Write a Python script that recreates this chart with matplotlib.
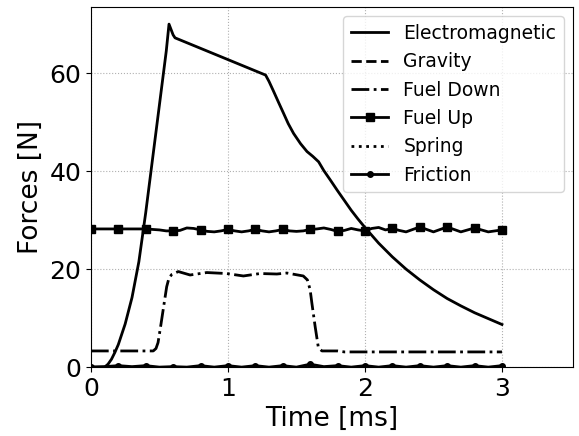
import matplotlib
matplotlib.use("Agg")
import matplotlib.pyplot as plt
import numpy as np

# Electromagnetic force (time [ms], force [N])
t_em = [0.0, 0.10, 0.125, 0.15, 0.175, 0.2, 0.25, 0.3, 0.35, 0.4, 0.45, 0.5,
        0.55, 0.57, 0.6, 0.614, 1.275, 1.30, 1.333, 1.37, 1.406, 1.44, 1.479,
        1.53, 1.577, 1.62, 1.662, 1.70, 1.747, 1.80, 1.85, 1.90, 1.95, 2.0,
        2.1, 2.2, 2.3, 2.4, 2.5, 2.6, 2.7, 2.8, 2.9, 3.0]
f_em = [0.0, 0.0, 0.6, 1.6, 3.0, 4.6, 8.8, 14.2, 21.5, 31.5, 42.5, 53.5,
        64.5, 70.0, 67.8, 67.2, 59.6, 58.3, 56.3, 54.0, 51.8, 49.7, 47.7,
        45.6, 44.0, 43.0, 41.9, 40.1, 38.2, 36.0, 34.0, 32.0, 30.2, 28.5,
        25.3, 22.5, 20.0, 17.8, 15.8, 14.0, 12.5, 11.1, 9.9, 8.7]

# Gravity (near zero)
t_grav = [0.0, 3.0]
f_grav = [0.05, 0.05]

# Fuel Down
t_fd = [0.0, 0.455, 0.475, 0.49, 0.51, 0.529, 0.553, 0.57, 0.59, 0.638, 0.724,
        0.846, 0.99, 1.113, 1.235, 1.357, 1.43, 1.55, 1.58, 1.60, 1.613, 1.637,
        1.66, 1.686, 1.8, 1.85, 2.0, 2.5, 3.0]
f_fd = [3.3, 3.3, 3.8, 5.0, 8.5, 12.0, 16.4, 18.2, 18.9, 19.5, 18.8,
        19.3, 19.1, 18.6, 19.1, 19.0, 19.2, 18.6, 17.8, 15.8, 13.0, 8.2,
        4.0, 3.3, 3.3, 3.1, 3.1, 3.1, 3.1]

# Fuel Up (every 0.05 ms)
t_fu = [round(0.05 * i, 2) for i in range(61)]
f_fu = [28.2, 28.2, 28.2, 28.2, 28.2, 28.2, 28.2, 28.2, 28.2, 28.1,
        28.0, 27.8, 27.8, 27.9, 28.4, 28.3, 28.0, 27.7, 27.6, 27.8,
        28.1, 27.8, 27.6, 27.8, 28.1, 27.8, 27.6, 27.8, 28.1, 27.8,
        27.7, 27.8, 28.1, 28.2, 28.4, 28.1, 27.7, 27.9, 28.3, 28.0,
        27.8, 28.3, 28.5, 28.0, 28.3, 27.9, 27.6, 28.1, 28.6, 28.1,
        27.6, 28.1, 28.6, 28.1, 27.6, 28.0, 28.4, 28.0, 27.6, 27.8,
        28.0]

# Spring (near zero)
t_sp = [0.0, 3.0]
f_sp = [0.1, 0.1]

# Friction (every 0.1 ms)
t_fr = [round(0.1 * i, 1) for i in range(31)]
f_fr = [0.0, 0.1, 0.3, 0.1, 0.3, 0.0, 0.1, 0.0, 0.3, 0.0,
        0.3, 0.0, 0.3, 0.0, 0.3, 0.0, 0.6, 0.1, 0.3, 0.0,
        0.3, 0.0, 0.3, 0.0, 0.3, 0.0, 0.3, 0.0, 0.3, 0.0, 0.3]

fig = plt.figure(figsize=(5.79, 4.36), dpi=100)
ax = fig.add_axes([0.157, 0.158, 0.833, 0.826])

lw = 2
ax.plot(t_em, f_em, color='black', lw=lw, ls='-', label='Electromagnetic')
ax.plot(t_grav, f_grav, color='black', lw=lw, ls='--', label='Gravity')
ax.plot(t_fd, f_fd, color='black', lw=lw, ls='-.', label='Fuel Down')
ax.plot(t_fu, f_fu, color='black', lw=lw, ls='-', marker='s', markersize=6,
        markevery=4, label='Fuel Up')
ax.plot(t_sp, f_sp, color='black', lw=lw, ls=':', label='Spring')
ax.plot(t_fr, f_fr, color='black', lw=lw, ls='-', marker='o', markersize=4,
        markevery=2, label='Friction')

ax.set_xlim(0, 3.52)
ax.set_ylim(0, 73.5)
ax.set_xticks([0, 1, 2, 3])
ax.set_yticks([0, 20, 40, 60])
ax.tick_params(labelsize=18)
ax.set_xlabel('Time [ms]', fontsize=19)
ax.set_ylabel('Forces [N]', fontsize=19)
ax.grid(True, ls=':', color='#b0b0b0', lw=0.8)
ax.legend(loc='upper right', fontsize=13.5)

fig.savefig('out.png', dpi=100)
